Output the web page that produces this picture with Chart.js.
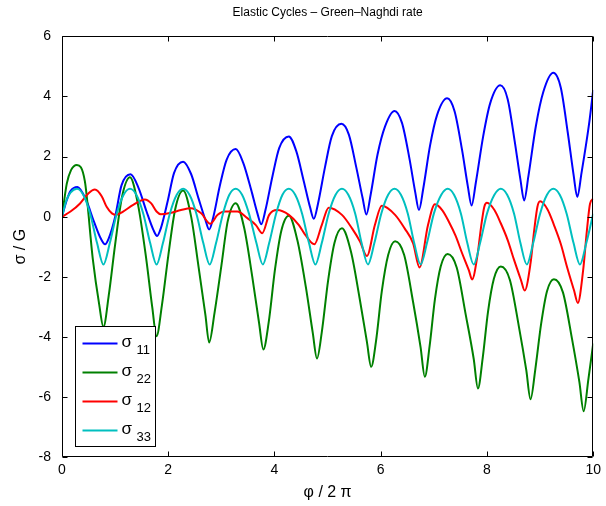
<!DOCTYPE html>
<html>
<head>
<meta charset="utf-8">
<title>Elastic Cycles</title>
<script src="https://cdn.jsdelivr.net/npm/chart.js@4.4.1/dist/chart.umd.min.js"></script>
<style>
  html, body { margin: 0; padding: 0; background: #fff; }
  canvas { display: block; }
</style>
</head>
<body>
<canvas id="chart" width="606" height="506"></canvas>
<script>
// Values, as [phi/2pi, sigma/G] pairs
const xTicks = [0, 2, 4, 6, 8, 10];
const yTicks = [-8, -6, -4, -2, 0, 2, 4, 6];
const seriesNames = ['11', '22', '12', '33'];
const seriesColors = ['#0000ff', '#008000', '#ff0000', '#00bfbf'];

const sigma11 = [
  [0, 0], [0.08, 0.50], [0.16, 0.85], [0.29, 0.99], [0.45, 0.57], [0.60, -0.16], [0.73, -0.73], [0.81, -0.92],
  [0.88, -0.72], [1.00, -0.01], [1.12, 1.04], [1.29, 1.41], [1.44, 0.96], [1.59, 0.18], [1.72, -0.44], [1.79, -0.64],
  [1.86, -0.39], [1.99, 0.52], [2.11, 1.46], [2.28, 1.83], [2.43, 1.42], [2.57, 0.61], [2.70, -0.11], [2.77, -0.43],
  [2.85, 0.00], [2.97, 1.02], [3.10, 1.90], [3.27, 2.25], [3.41, 1.80], [3.56, 0.90], [3.68, 0.10], [3.75, -0.25],
  [3.83, 0.22], [3.96, 1.33], [4.09, 2.29], [4.27, 2.67], [4.41, 2.18], [4.55, 1.19], [4.67, 0.31], [4.74, -0.07],
  [4.82, 0.44], [4.95, 1.64], [5.08, 2.68], [5.26, 3.09], [5.40, 2.73], [5.54, 1.64], [5.66, 0.61], [5.73, 0.07],
  [5.81, 0.73], [5.94, 2.07], [6.08, 3.00], [6.26, 3.52], [6.40, 3.12], [6.54, 1.94], [6.65, 0.81], [6.72, 0.22],
  [6.80, 0.93], [6.93, 2.38], [7.06, 3.38], [7.25, 3.94], [7.39, 3.51], [7.53, 2.23], [7.64, 1.01], [7.71, 0.37],
  [7.79, 1.13], [7.93, 2.69], [8.06, 3.77], [8.25, 4.37], [8.39, 3.91], [8.52, 2.53], [8.63, 1.23], [8.70, 0.54],
  [8.78, 1.35], [8.92, 3.01], [9.06, 4.15], [9.25, 4.79], [9.39, 4.29], [9.52, 2.81], [9.63, 1.40], [9.70, 0.66],
  [9.78, 1.46], [9.92, 3.06], [10.0, 4.22]
];

const sigma22 = [
  [0, 0], [0.09, 1.10], [0.17, 1.55], [0.28, 1.72], [0.43, 1.18], [0.58, -1.41], [0.70, -2.92], [0.78, -3.67],
  [0.88, -2.62], [1.00, -0.93], [1.13, 0.66], [1.28, 1.31], [1.43, 0.41], [1.58, -1.33], [1.70, -3.03], [1.78, -3.98],
  [1.88, -2.96], [2.00, -1.31], [2.13, 0.24], [2.28, 0.87], [2.43, 0.01], [2.57, -1.66], [2.70, -3.28], [2.77, -4.19],
  [2.87, -3.22], [3.00, -1.64], [3.12, -0.15], [3.27, 0.45], [3.43, -0.38], [3.58, -1.98], [3.71, -3.54], [3.79, -4.42],
  [3.89, -3.53], [4.01, -1.75], [4.13, -0.46], [4.27, 0.03], [4.43, -0.78], [4.59, -2.34], [4.72, -3.86], [4.80, -4.72],
  [4.89, -3.85], [5.01, -2.12], [5.13, -0.87], [5.27, -0.39], [5.44, -1.17], [5.60, -2.69], [5.74, -4.17], [5.82, -5.00],
  [5.91, -4.16], [6.02, -2.49], [6.14, -1.28], [6.27, -0.82], [6.44, -1.27], [6.61, -2.85], [6.75, -4.34], [6.83, -5.33],
  [6.92, -4.31], [7.02, -2.75], [7.13, -1.65], [7.26, -1.24], [7.43, -1.69], [7.60, -3.26], [7.75, -4.73], [7.83, -5.72],
  [7.92, -4.70], [8.02, -3.16], [8.13, -2.07], [8.26, -1.66], [8.43, -2.10], [8.60, -3.65], [8.74, -5.11], [8.82, -6.08],
  [8.91, -5.08], [9.02, -3.56], [9.13, -2.48], [9.26, -2.08], [9.43, -2.52], [9.60, -4.06], [9.74, -5.51], [9.82, -6.48],
  [9.91, -5.40], [10.0, -4.22]
];

const sigma12 = [
  [0, 0], [0.16, 0.17], [0.34, 0.44], [0.50, 0.78], [0.62, 0.90], [0.75, 0.67], [0.84, 0.33], [0.94, 0.11],
  [1.02, 0.06], [1.15, 0.17], [1.34, 0.39], [1.56, 0.57], [1.68, 0.44], [1.78, 0.17], [1.86, 0.08], [2.03, 0.12],
  [2.24, 0.22], [2.42, 0.28], [2.62, 0.11], [2.79, -0.24], [2.93, 0.06], [3.06, 0.17], [3.30, 0.17], [3.49, -0.05],
  [3.65, -0.28], [3.77, -0.55], [3.90, 0.06], [4.05, 0.22], [4.27, 0.06], [4.46, -0.28], [4.58, -0.61], [4.75, -0.92],
  [4.89, -0.28], [5.02, 0.30], [5.27, 0.06], [5.46, -0.39], [5.61, -0.83], [5.74, -1.31], [5.89, -0.28], [6.02, 0.36],
  [6.27, 0.06], [6.45, -0.39], [6.61, -0.89], [6.73, -1.69], [6.89, -0.28], [7.02, 0.41], [7.16, 0.21], [7.28, -0.16],
  [7.41, -0.64], [7.53, -1.21], [7.66, -1.79], [7.72, -2.09], [7.82, -1.30], [7.89, -0.33], [7.95, 0.33], [8.00, 0.46],
  [8.14, 0.22], [8.26, -0.22], [8.39, -0.78], [8.51, -1.44], [8.64, -2.11], [8.71, -2.46], [8.82, -1.55], [8.89, -0.44],
  [8.95, 0.33], [9.00, 0.51], [9.14, 0.24], [9.26, -0.27], [9.39, -0.91], [9.51, -1.69], [9.64, -2.46], [9.71, -2.87],
  [9.81, -1.79], [9.88, -0.48], [9.94, 0.43], [10.0, 0.60]
];

const sigma33 = [
  [0, 0], [0.08, 0.53], [0.16, 0.80], [0.28, 0.93],
  [0.40, 0.73], [0.53, 0.10], [0.66, -0.88], [0.78, -1.59], [0.90, -0.88], [1.03, 0.10], [1.16, 0.73], [1.28, 0.93],
  [1.40, 0.73], [1.53, 0.10], [1.66, -0.88], [1.78, -1.59], [1.90, -0.88], [2.03, 0.10], [2.16, 0.73], [2.28, 0.93],
  [2.40, 0.73], [2.53, 0.10], [2.66, -0.88], [2.78, -1.59], [2.90, -0.88], [3.03, 0.10], [3.15, 0.73], [3.27, 0.93],
  [3.39, 0.73], [3.52, 0.10], [3.66, -0.88], [3.78, -1.59], [3.90, -0.88], [4.03, 0.10], [4.15, 0.73], [4.27, 0.93],
  [4.39, 0.73], [4.52, 0.10], [4.65, -0.88], [4.77, -1.59], [4.89, -0.88], [5.02, 0.10], [5.15, 0.73], [5.27, 0.93],
  [5.39, 0.73], [5.52, 0.10], [5.64, -0.88], [5.76, -1.59], [5.88, -0.88], [6.01, 0.10], [6.14, 0.73], [6.26, 0.93],
  [6.38, 0.73], [6.51, 0.10], [6.63, -0.88], [6.75, -1.59], [6.87, -0.88], [7.00, 0.10], [7.14, 0.73], [7.26, 0.93],
  [7.38, 0.73], [7.51, 0.10], [7.63, -0.88], [7.75, -1.59], [7.87, -0.88], [8.00, 0.10], [8.14, 0.73], [8.26, 0.93],
  [8.38, 0.73], [8.51, 0.10], [8.63, -0.88], [8.75, -1.59], [8.87, -0.88], [9.00, 0.10], [9.13, 0.73], [9.25, 0.93],
  [9.37, 0.73], [9.50, 0.10], [9.63, -0.88], [9.75, -1.59], [9.87, -0.88], [10.0, 0.10]
];

const allSeries = [sigma11, sigma22, sigma12, sigma33];
const FONT = 'Liberation Sans, Arial, Helvetica, sans-serif';

// Box, inward ticks and the legend (with subscripts) drawn on top
const framePlugin = {
  id: 'frame',
  afterDatasetsDraw(chart) {
    const { ctx, chartArea: a, scales } = chart;
    const L = Math.round(a.left) + 0.5;
    const R = Math.round(a.right) - 0.5;
    const T = Math.round(a.top) + 0.5;
    const B = Math.round(a.bottom) - 0.5;
    ctx.save();
    ctx.strokeStyle = '#000';
    ctx.lineWidth = 1;
    ctx.beginPath();
    ctx.rect(L, T, R - L, B - T);
    xTicks.forEach(v => {
      const px = Math.round(scales.x.getPixelForValue(v)) + 0.5;
      ctx.moveTo(px, B); ctx.lineTo(px, B - 5);
      ctx.moveTo(px, T); ctx.lineTo(px, T + 5);
    });
    yTicks.forEach(v => {
      const py = Math.round(scales.y.getPixelForValue(v)) + 0.5;
      ctx.moveTo(L, py); ctx.lineTo(L + 5, py);
      ctx.moveTo(R, py); ctx.lineTo(R - 5, py);
    });
    ctx.stroke();

    // legend
    const lx = L + 13, ly = B - 130;
    ctx.fillStyle = '#fff';
    ctx.fillRect(lx, ly, 80, 120);
    ctx.strokeRect(lx, ly, 80, 120);
    seriesNames.forEach((name, i) => {
      const yy = ly + 17 + i * 29;
      ctx.strokeStyle = seriesColors[i];
      ctx.lineWidth = 2;
      ctx.beginPath();
      ctx.moveTo(lx + 7, yy);
      ctx.lineTo(lx + 42, yy);
      ctx.stroke();
      ctx.fillStyle = '#000';
      ctx.textBaseline = 'middle';
      ctx.textAlign = 'left';
      ctx.font = '17px ' + FONT;
      ctx.fillText('σ', lx + 46, yy - 1);
      ctx.font = '13px ' + FONT;
      ctx.fillText(name, lx + 61, yy + 7);
    });
    ctx.restore();
  }
};

new Chart(document.getElementById('chart'), {
  type: 'line',
  data: {
    datasets: allSeries.map((s, i) => ({
      label: 'σ ' + seriesNames[i],
      data: s.map(p => ({ x: p[0], y: p[1] })),
      borderColor: seriesColors[i],
      borderWidth: 2,
      pointRadius: 0,
      fill: false,
      cubicInterpolationMode: 'monotone',
      order: allSeries.length - i
    }))
  },
  options: {
    responsive: false,
    animation: false,
    devicePixelRatio: 1,
    layout: { padding: { left: 0, right: 9, top: 0, bottom: 0 } },
    plugins: {
      legend: { display: false },
      tooltip: { enabled: false },
      title: {
        display: true,
        text: 'Elastic Cycles – Green–Naghdi rate',
        fullSize: false,
        color: '#000',
        font: { family: FONT, size: 12, weight: 'normal' },
        padding: { top: 5, bottom: 17 }
      }
    },
    scales: {
      x: {
        type: 'linear',
        min: 0,
        max: 10,
        afterBuildTicks: s => { s.ticks = xTicks.map(v => ({ value: v })); },
        afterFit: s => { s.height = 49; },
        grid: { display: false, drawTicks: false },
        border: { display: false },
        ticks: { color: '#000', font: { family: FONT, size: 14 }, padding: 5, maxRotation: 0 },
        title: { display: true, text: 'φ / 2 π', color: '#000', font: { family: FONT, size: 16 }, padding: { top: 0, bottom: 4 } }
      },
      y: {
        type: 'linear',
        min: -8,
        max: 6,
        afterBuildTicks: s => { s.ticks = yTicks.map(v => ({ value: v })); },
        afterFit: s => { s.width = 62; },
        grid: { display: false, drawTicks: false },
        border: { display: false },
        ticks: { color: '#000', font: { family: FONT, size: 14 }, padding: 11 },
        title: { display: true, text: 'σ / G', color: '#000', font: { family: FONT, size: 16 }, padding: { top: 11, bottom: 0 } }
      }
    }
  },
  plugins: [framePlugin]
});
</script>
</body>
</html>
